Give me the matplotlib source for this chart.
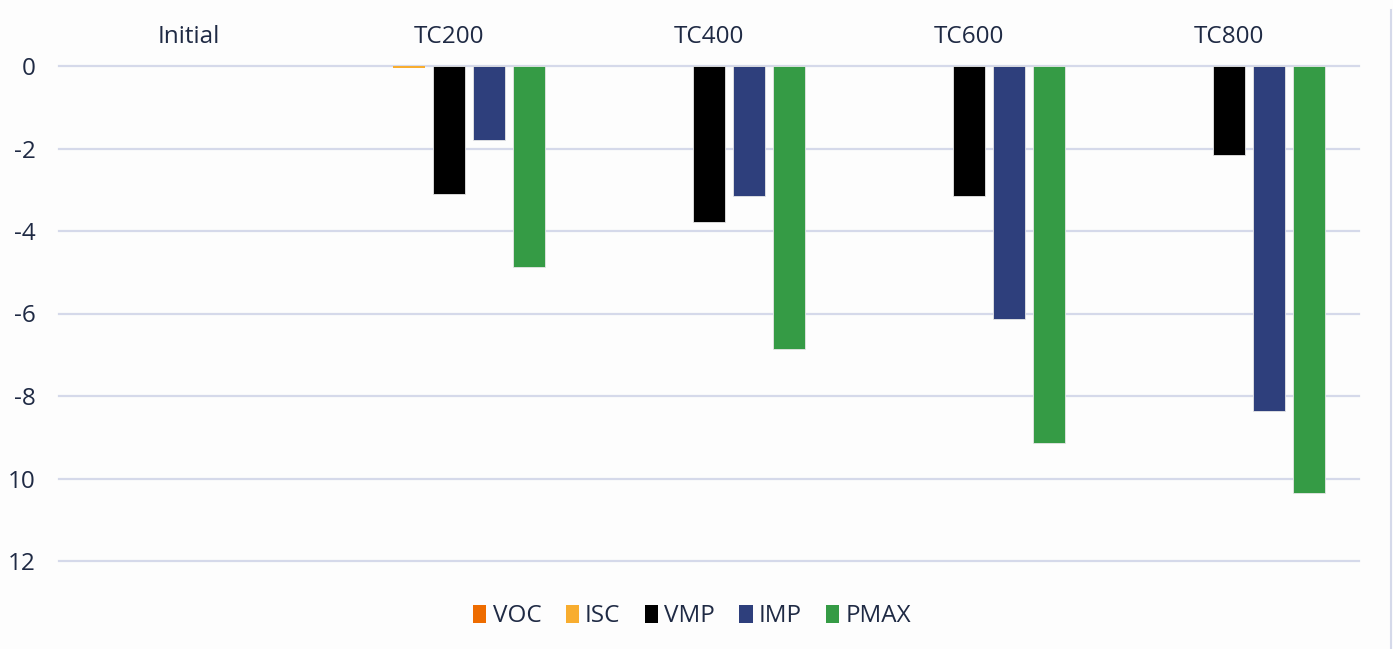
import matplotlib.pyplot as plt
import numpy as np
from matplotlib.lines import Line2D

# Data
CATEGORIES = ["Initial", "TC200", "TC400", "TC600", "TC800"]
SERIES = ["VOC", "ISC", "VMP", "IMP", "PMAX"]
VOC = [0, 0, 0, 0, 0]
ISC = [0, -0.05, 0, 0, 0]
VMP = [0, -3.10, -3.78, -3.15, -2.16]
IMP = [0, -1.79, -3.15, -6.13, -8.36]
PMAX = [0, -4.87, -6.86, -9.14, -10.35]
Y_TICKS = [0, -2, -4, -6, -8, -10, -12]
Y_LABELS = ["0", "-2", "-4", "-6", "-8", "10", "12"]

COLORS = ["#ee6c00", "#f8ad2f", "#000000", "#2e3f7c", "#359b45"]
TEXT = "#1f2a44"
GRID = "#d5d9ea"
FS = 17.5

plt.rcParams['font.family'] = ['Open Sans', 'DejaVu Sans']

fig = plt.figure(figsize=(13.93, 6.49), dpi=100)
fig.patch.set_facecolor("#fdfdfd")
ax = fig.add_axes([59 / 1393, 1 - 561 / 649, 1300 / 1393, 495 / 649])
ax.set_facecolor("#fdfdfd")

x = np.arange(len(CATEGORIES))
step, width = 0.154, 0.12
for i, (vals, col) in enumerate(zip([VOC, ISC, VMP, IMP, PMAX], COLORS)):
    # thin light outline only on the visible (non-tiny) bars
    lw = [0.6 if abs(v) > 0.2 else 0 for v in vals]
    ax.bar(x + (i - 2) * step, vals, width=width, color=col,
           edgecolor="#e6e6e6", linewidth=lw, label=SERIES[i], zorder=3)

ax.set_xlim(-0.5, len(CATEGORIES) - 0.5)
ax.set_ylim(-12, 0)

# Gridlines
for t in Y_TICKS:
    ax.axhline(t, color=GRID, linewidth=1.6, zorder=1, clip_on=False)

ax.set_yticks(Y_TICKS)
ax.set_yticklabels(Y_LABELS, fontsize=FS, color=TEXT)
ax.xaxis.tick_top()
ax.set_xticks(x)
ax.set_xticklabels(CATEGORIES, fontsize=FS, color=TEXT)
ax.tick_params(axis="both", length=0)
ax.tick_params(axis="x", pad=12)
ax.tick_params(axis="y", pad=17)
for s in ax.spines.values():
    s.set_visible(False)

leg = ax.legend(loc="upper center", bbox_to_anchor=(0.487, -0.043), ncol=5,
                frameon=False, fontsize=FS, handlelength=0.55, handleheight=0.75,
                handletextpad=0.25, columnspacing=1.0)
for t in leg.get_texts():
    t.set_color(TEXT)

# Right border line
fig.add_artist(Line2D([1391 / 1393, 1391 / 1393], [0, 1 - 10 / 649],
                      color=GRID, linewidth=1.5))

plt.savefig("out.png", dpi=100, facecolor=fig.get_facecolor())
